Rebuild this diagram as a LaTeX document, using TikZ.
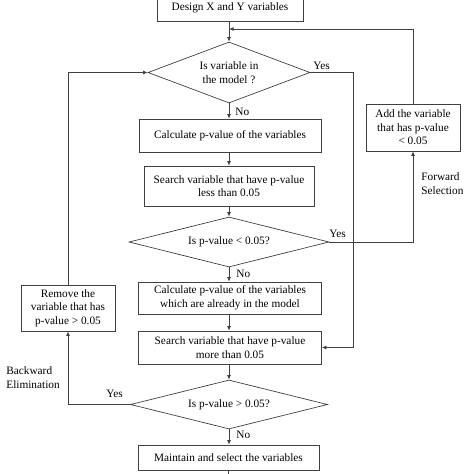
\documentclass[tikz,border=0pt]{standalone}
\usepackage{fontspec}
\setmainfont{Liberation Serif}
\usetikzlibrary{shapes.geometric,arrows.meta}
\begin{document}
\begin{tikzpicture}[x=1pt,y=-1pt,
  line width=0.7pt,
  every node/.style={font=\fontsize{11.3}{13.6}\selectfont, inner sep=0pt},
  box/.style={draw=black!75, rectangle, align=center},
  dec/.style={draw=black!75, diamond, align=center},
  arr/.style={draw=black!75, -{Latex[length=4.5pt,width=3.8pt]}},
  ln/.style={draw=black!75},
  lab/.style={anchor=west, align=left}]
\useasboundingbox (0,0) rectangle (474,474);

\node[box, minimum width=146pt, minimum height=27pt] (design) at (230,7.5) {Design X and Y variables};
\node[dec, aspect=2.65, minimum width=162pt, minimum height=61pt] (d1) at (229,72.5) {Is variable in\\the model ?};
\node[box, minimum width=182pt, minimum height=33pt] (calc1) at (230,135.5) {Calculate p-value of the variables};
\node[box, minimum width=170pt, minimum height=40pt] (search1) at (229,186) {Search variable that have p-value\\less than 0.05};
\node[dec, aspect=4, minimum width=200pt, minimum height=50pt] (d2) at (229,242) {Is p-value < 0.05?};
\node[box, minimum width=183pt, minimum height=32pt] (calc2) at (230,298) {Calculate p-value of the variables\\which are already in the model};
\node[box, minimum width=183pt, minimum height=33pt] (search2) at (230,347.5) {Search variable that have p-value\\more than 0.05};
\node[dec, aspect=4, minimum width=197pt, minimum height=49pt] (d3) at (229,404.5) {Is p-value > 0.05?};
\node[box, minimum width=181pt, minimum height=25pt] (maintain) at (228.5,457.5) {Maintain and select the variables};
\node[box, minimum width=94pt, minimum height=47pt] (add) at (413,127.5) {Add the variable\\that has p-value\\< 0.05};
\node[box, minimum width=94pt, minimum height=46pt] (remove) at (68,308) {Remove the\\variable that has\\p-value > 0.05};

\coordinate (j1) at (229,29);
\coordinate (r1) at (353,72.5);
\coordinate (bend) at (228.5,474);

\draw[arr] (design.south -| j1) -- (d1.north);
\draw[arr] (d1.south) -- (calc1.north -| d1.south);
\draw[arr] (calc1.south -| d1.south) -- (search1.north -| d1.south);
\draw[arr] (search1.south) -- (d2.north);
\draw[arr] (d2.south) -- (calc2.north -| d2.south);
\draw[arr] (calc2.south -| d2.south) -- (search2.north -| d2.south);
\draw[arr] (search2.south -| d3.north) -- (d3.north);
\draw[arr] (d3.south) -- (maintain.north -| d3.south);
\draw[ln] (maintain.south) -- (bend);

\draw[arr] (d1.east) -- (r1) |- (search2.east);
\draw[arr] (d2.east) -| (add.south);
\draw[arr] (add.north) |- (j1);
\draw[arr] (d3.west) -| (remove.south);
\draw[arr] (remove.north) |- (d1.west);

\node[lab] (no1) at (235,112) {No};
\node[lab] (no2) at (236,273.5) {No};
\node[lab] (no3) at (236,435) {No};
\node[lab] (yes1) at (313,66) {Yes};
\node[lab] (yes2) at (329,234) {Yes};
\node[lab] (yes3) at (106,394) {Yes};
\node[lab] (fwd) at (421,183.5) {Forward\\Selection};
\node[lab] (bwd) at (6,377.5) {Backward\\Elimination};
\end{tikzpicture}
\end{document}
